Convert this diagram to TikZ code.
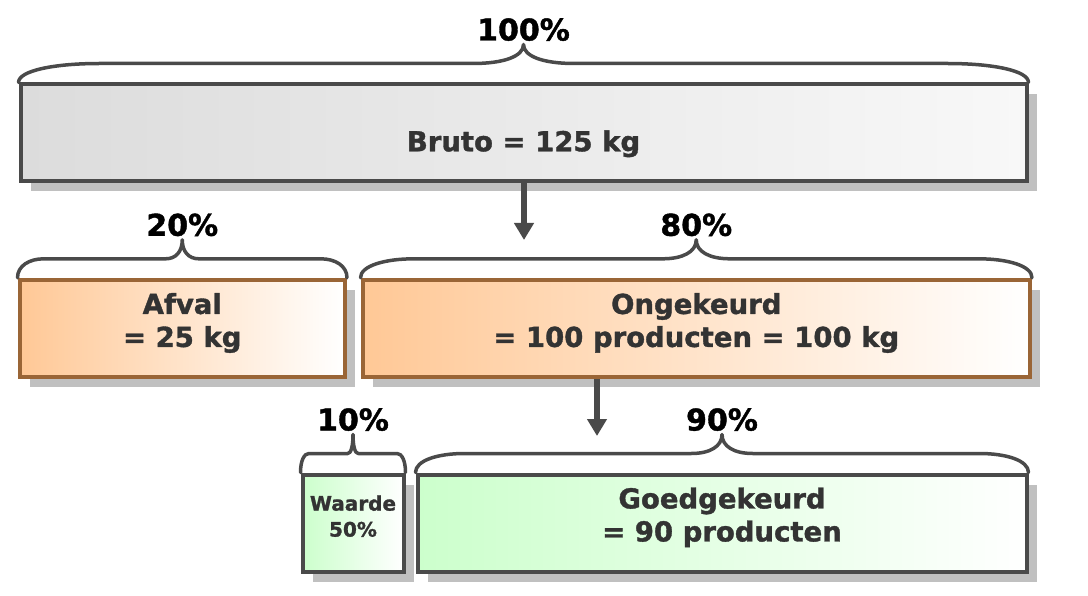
\documentclass[tikz,border=0pt]{standalone}
\usepackage{fontspec}
\setmainfont{DejaVu Sans}[BoldFeatures={FakeBold=1.3}]
\usetikzlibrary{arrows.meta,shadows,calc}

\definecolor{rand}{HTML}{4A4A4A}
\definecolor{bruin}{HTML}{9A6536}
\definecolor{schaduw}{HTML}{C0C0C0}
\definecolor{tekst}{HTML}{333333}
\definecolor{grijs}{HTML}{DCDCDC}
\definecolor{oranje}{HTML}{FFC896}
\definecolor{groen}{HTML}{CCFFCC}

% accolade boven een vak: node, naam van de punt, percentage
\newcommand{\accolade}[3]{%
  \draw[accolade] let \p1=(#1.north west), \p2=(#1.north east),
      \n1={0.08*(\x2-\x1)}, \n2={0.05*(\x2-\x1)}, \n3={0.5*(\x1+\x2)} in
    (\p1) .. controls +(0pt,12pt) and +({-0.55*\n1},0pt) .. ({\x1+\n1},{\y1+19pt})
    -- ({\n3-\n2},{\y1+19pt})
    .. controls +({0.6*\n2},0pt) and +(0pt,-12pt) .. (\n3,{\y1+38pt}) coordinate (#2)
    .. controls +(0pt,-12pt) and +({-0.6*\n2},0pt) .. ({\n3+\n2},{\y1+19pt})
    -- ({\x2-\n1},{\y1+19pt})
    .. controls +({0.55*\n1},0pt) and +(0pt,12pt) .. (\p2);
  \node[procent] (#2tekst) at ([yshift=4pt]#2) {#3};
}

\begin{document}
\begin{tikzpicture}[x=1pt,y=-1pt,
    vak/.style={draw=rand, line width=4pt, inner sep=0pt, align=center, text=tekst,
      font=\bfseries\fontsize{27.5}{33}\selectfont,
      drop shadow={shadow xshift=10pt, shadow yshift=-10pt, fill=schaduw, opacity=1}},
    grijsvak/.style={vak, left color=grijs, right color=grijs!20},
    oranjevak/.style={vak, draw=bruin, left color=oranje, right color=white},
    groenvak/.style={vak, left color=groen, right color=white},
    procent/.style={anchor=base, inner sep=0pt, text=black, font=\bfseries\fontsize{30}{32}\selectfont},
    accolade/.style={draw=rand, line width=3.5pt, line cap=round, line join=round},
    pijl/.style={draw=rand, line width=6.5pt, -{Triangle[width=19pt,length=17pt]}}
  ]
  \useasboundingbox (0,0) rectangle (1088,596);

  \node[grijsvak, minimum width=1006pt, minimum height=96.5pt, text height=43pt]
    (bruto) at (523.5,132.75) {Bruto = 125 kg};

  \node[oranjevak, minimum width=325.5pt, minimum height=97.4pt, text depth=17pt]
    (afval) at (182.25,328.5) {Afval\\= 25 kg};
  \node[oranjevak, minimum width=667.5pt, minimum height=97.4pt, text depth=17pt]
    (ongekeurd) at (696.25,328.5) {Ongekeurd\\= 100 producten = 100 kg};

  \node[groenvak, minimum width=101pt, minimum height=97pt, text depth=14pt,
    font=\bfseries\fontsize{20}{26}\selectfont]
    (waarde) at (353,523) {Waarde\\50\%};
  \node[groenvak, minimum width=609pt, minimum height=97pt, text depth=17pt]
    (goedgekeurd) at (722,523) {Goedgekeurd\\= 90 producten};

  \accolade{bruto}{top100}{100\%}
  \accolade{afval}{top20}{20\%}
  \accolade{ongekeurd}{top80}{80\%}
  \accolade{waarde}{top10}{10\%}
  \accolade{goedgekeurd}{top90}{90\%}

  \coordinate (pijl1) at (524,240);
  \coordinate (pijl2) at (597,436);
  \draw[pijl] (bruto.south -| pijl1) -- (pijl1);
  \draw[pijl] (ongekeurd.south -| pijl2) -- (pijl2);
\end{tikzpicture}
\end{document}
